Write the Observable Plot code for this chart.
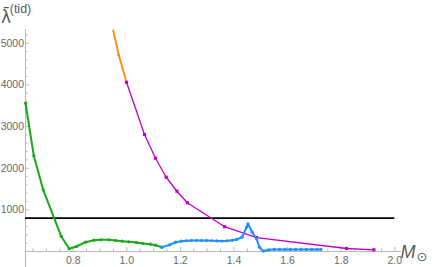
<!DOCTYPE html>
<html><head><meta charset="utf-8">
<script src="https://cdn.jsdelivr.net/npm/d3@7"></script>
<script src="https://cdn.jsdelivr.net/npm/@observablehq/plot@0.6"></script>
<style>
body{margin:0;background:#fff}
#c{position:relative;width:436px;height:267px;overflow:hidden}
</style>
</head><body><div id="c"></div>
<script>
// ---- data ----
const greenX = [0.622, 0.653, 0.688, 0.755, 0.785, 0.812, 0.846, 0.877, 0.904, 0.933, 0.958, 0.983, 1.007, 1.036, 1.061, 1.088, 1.107, 1.131];
const greenY = [3560, 2300, 1480, 367, 65, 120, 223, 271, 280, 280, 264, 247, 233, 216, 192, 175, 151, 103];

const orangeX = [0.949, 0.970, 0.999];
const orangeY = [5311, 4720, 4063];

const magentaX = [0.999, 1.066, 1.107, 1.147, 1.187, 1.226, 1.365, 1.484, 1.820, 1.922];
const magentaY = [4063, 2808, 2240, 1783, 1447, 1170, 595, 335, 72, 41];

const blueX = [1.131, 1.160, 1.182, 1.203, 1.222, 1.241, 1.260, 1.279, 1.298, 1.317, 1.336, 1.355, 1.374, 1.393, 1.410, 1.430, 1.447, 1.452, 1.468, 1.484, 1.495, 1.509, 1.530, 1.550, 1.570, 1.590, 1.610, 1.630, 1.650, 1.670, 1.690, 1.710, 1.724];
const blueY = [103, 160, 223, 247, 258, 264, 264, 264, 262, 258, 255, 252, 258, 268, 290, 343, 583, 665, 463, 305, 103, 10, 40, 50, 50, 50, 50, 50, 50, 50, 50, 50, 50];

const thresholdY = 800;
const thresholdX = [0.622, 2.0];

const xTicks = [0.8, 1.0, 1.2, 1.4, 1.6, 1.8, 2.0];
const xTickLabels = ["0.8", "1.0", "1.2", "1.4", "1.6", "1.8", "2.0"];
const yTicks = [1000, 2000, 3000, 4000, 5000];
const yTickLabels = ["1000", "2000", "3000", "4000", "5000"];
const xMinor = d3.range(0.65, 2.0001, 0.05).filter(v => !xTicks.some(t => Math.abs(t - v) < 1e-6));
const yMinor = d3.range(200, 5201, 200).filter(v => v % 1000 !== 0);

// ---- build ----
const X0 = 0.622, X1 = 2.025, Y0 = 0, Y1 = 5330;
const zip = (xs, ys) => xs.map((x, i) => ({x, y: ys[i]}));
const green = zip(greenX, greenY), orange = zip(orangeX, orangeY),
      magenta = zip(magentaX, magentaY), blue = zip(blueX, blueY);

const axisColor = "#b8b8b8", labelColor = "#6a6a6a";
const font = "'Liberation Sans', Arial, sans-serif";
const tx = (X1 - X0) / 376; // data units per pixel (x)
const ty = (Y1 - Y0) / 222; // data units per pixel (y)

const plot = Plot.plot({
  width: 436, height: 267,
  marginLeft: 25, marginRight: 35, marginTop: 29, marginBottom: 16,
  x: {domain: [X0, X1], axis: null},
  y: {domain: [Y0, Y1], axis: null},
  style: {fontFamily: font, background: "#fff"},
  marks: [
    // axes lines
    Plot.ruleX([X0], {y1: -16 * ty, y2: Y1, stroke: axisColor, strokeWidth: 1}),
    Plot.ruleY([0], {x1: X0, x2: X1, stroke: axisColor, strokeWidth: 1}),
    // ticks
    Plot.ruleY(yTicks, {x1: X0, x2: X0 + 4 * tx, stroke: axisColor}),
    Plot.ruleY(yMinor, {x1: X0, x2: X0 + 2.5 * tx, stroke: axisColor}),
    Plot.ruleX(xTicks, {y1: 0, y2: 4 * ty, stroke: axisColor}),
    Plot.ruleX(xMinor, {y1: 0, y2: 2.5 * ty, stroke: axisColor}),
    // tick labels
    Plot.text(yTicks, {x: X0, y: d => d, text: (d, i) => yTickLabels[i], textAnchor: "end", dx: -1.5, fill: labelColor, fontSize: 10.5}),
    Plot.text(xTicks, {x: d => d, y: 0, text: (d, i) => xTickLabels[i], dy: 9.5, fill: labelColor, fontSize: 10.5}),
    // threshold line
    Plot.ruleY([thresholdY], {x1: thresholdX[0], x2: thresholdX[1], stroke: "#000", strokeWidth: 1.8}),
    // curves
    Plot.line(green, {x: "x", y: "y", stroke: "#1aa81a", strokeWidth: 2}),
    Plot.dot(green, {x: "x", y: "y", fill: "#1aa81a", r: 1.6}),
    Plot.line(orange, {x: "x", y: "y", stroke: "#ff8c00", strokeWidth: 1.8}),
    Plot.dot(orange.slice(1, 2), {x: "x", y: "y", fill: "#ff8c00", r: 1.5}),
    Plot.line(magenta, {x: "x", y: "y", stroke: "#c000c8", strokeWidth: 1.3}),
    Plot.dot(magenta, {x: "x", y: "y", fill: "#c000c8", r: 1.8, symbol: "square"}),
    Plot.line(blue, {x: "x", y: "y", stroke: "#1e8fff", strokeWidth: 2}),
    Plot.dot(blue, {x: "x", y: "y", fill: "#1e8fff", r: 1.6})
  ]
});

const svg = d3.select(plot);
// y label: λ̄^(tid)
svg.append("text").attr("fill", "#5a5a5a").attr("font-family", "'DejaVu Sans', sans-serif")
  .attr("x", 6).attr("y", 23).attr("font-size", 17).text("λ\u0304");
svg.append("text").attr("fill", "#5a5a5a").attr("font-family", font)
  .attr("x", 20.5).attr("y", 12.5).attr("font-size", 12.5).text("(tid)");
// x label: M⊙
svg.append("text").attr("fill", "#5a5a5a").attr("font-family", font)
  .attr("x", 408).attr("y", 258).attr("font-size", 18).attr("font-style", "italic").text("M");
svg.append("text").attr("fill", "#5a5a5a").attr("font-family", "'DejaVu Sans', sans-serif")
  .attr("x", 422).attr("y", 261).attr("font-size", 13).text("⊙");

document.getElementById("c").appendChild(plot);
</script>
</body></html>
